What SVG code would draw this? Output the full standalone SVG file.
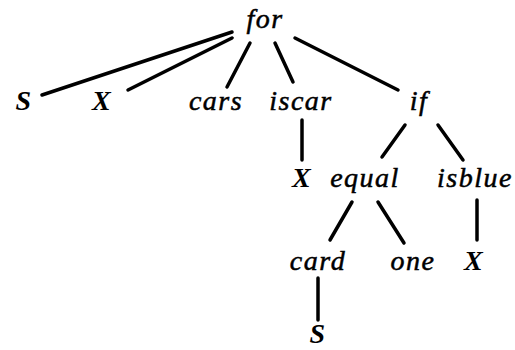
<svg xmlns="http://www.w3.org/2000/svg" width="515" height="350" viewBox="0 0 515 350">
<style>
text{font-family:"Liberation Serif","Times New Roman",serif;font-style:italic;font-size:28px;text-anchor:middle;fill:#000;stroke:#000;stroke-width:0.5;letter-spacing:1.5px}
.v{font-weight:bold;stroke-width:0}
.e line{stroke:#000;stroke-width:3.5;stroke-linecap:round}
</style>
<rect width="515" height="350" fill="#fff"/>
<g class="e" id="connectors">
<line x1="232" y1="32" x2="42" y2="95"/>
<line x1="232" y1="38" x2="128" y2="90"/>
<line x1="250" y1="43" x2="227" y2="87"/>
<line x1="275" y1="43" x2="293" y2="82"/>
<line x1="295" y1="38" x2="398" y2="90"/>
<line x1="302" y1="120" x2="302" y2="160"/>
<line x1="405" y1="125" x2="382" y2="157"/>
<line x1="438" y1="125" x2="463" y2="160"/>
<line x1="352" y1="202" x2="330" y2="240"/>
<line x1="378" y1="202" x2="404" y2="243"/>
<line x1="477" y1="200" x2="477" y2="240"/>
<line x1="318" y1="278" x2="318" y2="320"/>
</g>
<g id="n-for"><text x="265" y="28">for</text></g>
<g id="n-S1"><text class="v" x="24" y="110">S</text></g>
<g id="n-X1"><text class="v" x="102" y="110">X</text></g>
<g id="n-cars"><text x="216" y="110">cars</text></g>
<g id="n-iscar"><text x="301" y="110">iscar</text></g>
<g id="n-if"><text x="419" y="110">if</text></g>
<g id="n-X2"><text class="v" x="302" y="187">X</text></g>
<g id="n-equal"><text x="365" y="187">equal</text></g>
<g id="n-isblue"><text x="475" y="187">isblue</text></g>
<g id="n-card"><text x="318" y="270">card</text></g>
<g id="n-one"><text x="413" y="270">one</text></g>
<g id="n-X3"><text class="v" x="474" y="270">X</text></g>
<g id="n-S2"><text class="v" x="318" y="343">S</text></g>
</svg>
